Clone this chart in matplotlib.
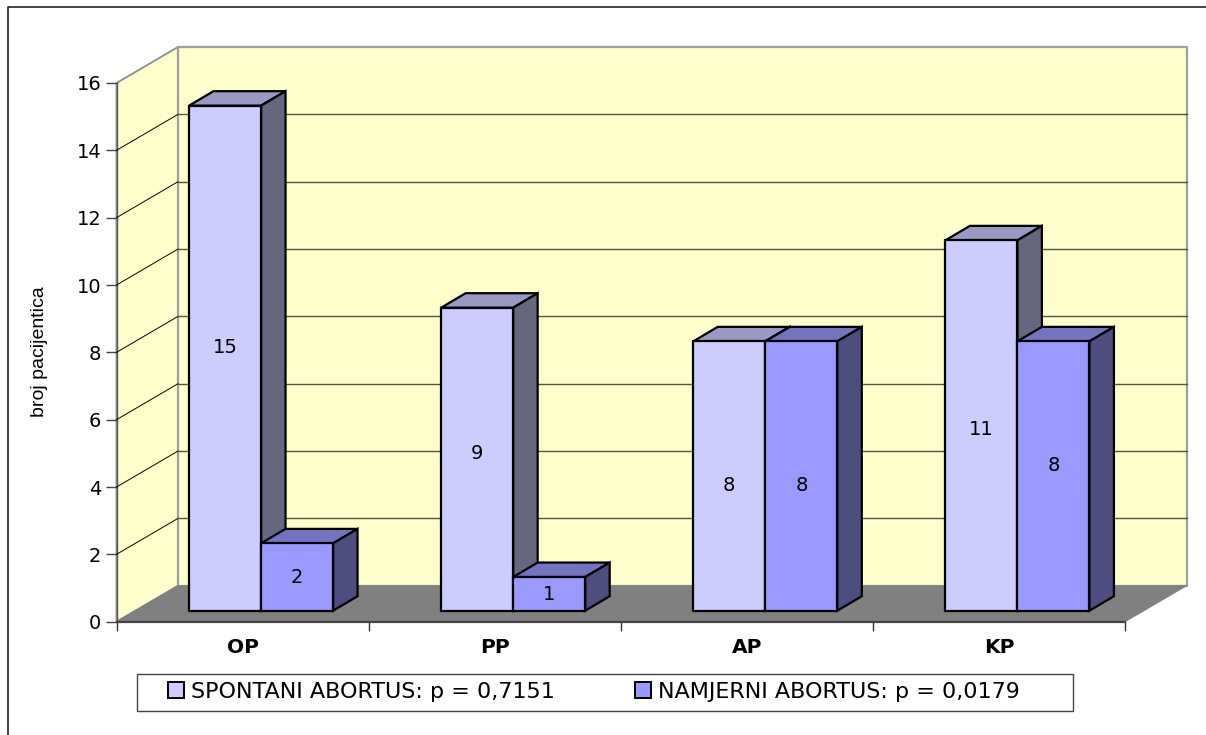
import matplotlib
matplotlib.use("Agg")
import matplotlib.pyplot as plt
from matplotlib.patches import Polygon, Patch, Rectangle

plt.rcParams['font.family'] = ['DejaVu Sans']

categories = ["OP", "PP", "AP", "KP"]
spontani = [15, 9, 8, 11]
namjerni = [2, 1, 8, 8]
# heights where the value labels sit
spontani_label_y = [8.13, 5.0, 4.06, 5.72]
namjerni_label_y = [1.3, 0.82, 4.06, 4.65]
y_ticks = [0, 2, 4, 6, 8, 10, 12, 14, 16]
legend_labels = ["SPONTANI ABORTUS: p = 0,7151", "NAMJERNI ABORTUS: p = 0,0179"]
y_label = "broj pacijentica"

W, H = 1206, 735
# oblique projection of the 3D chart, in data units
WALL_DX, WALL_DY = 0.244, 1.069
BAR_DX, BAR_DY = 0.097, 0.43
BAR_W = 0.2857
BAR_START = 0.2877
BAR_BASE = 0.327

fig = plt.figure(figsize=(W / 100, H / 100), dpi=100)
ax = fig.add_axes([116.5 / W, 1 - 621.7 / H, 1008.5 / W, 538.7 / H])
ax.set_xlim(0, 4)
ax.set_ylim(0, 16)
ax.patch.set_visible(False)
for side in ["top", "right", "bottom"]:
    ax.spines[side].set_visible(False)
ax.spines["left"].set_color("#555555")
ax.spines["left"].set_linewidth(1.0)


def poly(points, face, edge, lw, z):
    ax.add_patch(Polygon(points, closed=True, facecolor=face, edgecolor=edge,
                         linewidth=lw, zorder=z, clip_on=False, joinstyle="miter"))


def bar_3d(x, value, face, top, side, z):
    y = BAR_BASE + value
    poly([(x, y), (x + BAR_W, y), (x + BAR_W + BAR_DX, y + BAR_DY), (x + BAR_DX, y + BAR_DY)],
         top, "black", 1.6, z)
    poly([(x + BAR_W, BAR_BASE), (x + BAR_W + BAR_DX, BAR_BASE + BAR_DY),
          (x + BAR_W + BAR_DX, y + BAR_DY), (x + BAR_W, y)], side, "black", 1.6, z)
    ax.bar(x, value, BAR_W, bottom=BAR_BASE, align="edge", color=face, edgecolor="black",
           linewidth=1.6, zorder=z, clip_on=False)


# walls and floor
poly([(0, 0), (WALL_DX, WALL_DY), (WALL_DX, 16 + WALL_DY), (0, 16)], "#FFFFCC", "#8C8C8C", 1.3, 1)
poly([(WALL_DX, WALL_DY), (4 + WALL_DX, WALL_DY), (4 + WALL_DX, 16 + WALL_DY), (WALL_DX, 16 + WALL_DY)],
     "#FFFFCC", "#A0A0A0", 1.6, 1)
poly([(0, 0), (4, 0), (4 + WALL_DX, WALL_DY), (WALL_DX, WALL_DY)], "#808080", "#808080", 0.8, 2)
ax.plot([0, 4], [0, 0], color="#444444", lw=1.6, zorder=3, clip_on=False)

# grid lines, on side wall and back wall
for t in y_ticks[1:-1]:
    ax.plot([0, WALL_DX], [t, t + WALL_DY], color="black", lw=0.7, zorder=3, clip_on=False)
    ax.plot([WALL_DX, 4 + WALL_DX], [t + WALL_DY, t + WALL_DY], color="#555540", lw=1.0, zorder=3,
            clip_on=False)

# bars
for i in range(len(categories)):
    x = i + BAR_START
    bar_3d(x, spontani[i], "#CCCCFF", "#9999C4", "#66667F", 5 + i * 2)
    bar_3d(x + BAR_W, namjerni[i], "#9999FF", "#7373BF", "#4D4D7F", 6 + i * 2)
    ax.text(x + BAR_W / 2, spontani_label_y[i], str(spontani[i]), fontsize=14, ha="center", va="center",
            zorder=20)
    ax.text(x + BAR_W * 1.5, namjerni_label_y[i], str(namjerni[i]), fontsize=14, ha="center", va="center",
            zorder=20)

# axes
ax.set_yticks(y_ticks)
ax.tick_params(axis="y", length=8, width=1.0, color="#444444", labelsize=14, pad=3)
ax.set_xticks(range(len(categories) + 1))
ax.set_xticklabels([])
ax.tick_params(axis="x", which="major", length=6.5, width=1.0, color="#333333")
ax.set_xticks([i + 0.5 for i in range(len(categories))], minor=True)
ax.set_xticklabels(categories, minor=True, fontsize=14.5, fontweight="bold")
ax.tick_params(axis="x", which="minor", length=0, pad=12)
fig.text(40 / W, 1 - 352 / H, y_label, rotation=90, fontsize=14, ha="center", va="center",
         family="Liberation Sans")

# legend box, then the legend itself
fig.add_artist(Rectangle((136.5 / W, 1 - 710.5 / H), 936.5 / W, 37 / H, transform=fig.transFigure,
                         facecolor="white", edgecolor="#444444", linewidth=1.0))
handles = [Patch(facecolor="#CCCCFF", edgecolor="black", linewidth=1.4),
           Patch(facecolor="#9999FF", edgecolor="black", linewidth=1.4)]
fig.legend(handles, legend_labels, ncol=2, frameon=False, fontsize=16, loc="center",
           bbox_to_anchor=(594 / W, 1 - 692 / H), handlelength=0.72, handleheight=0.72, handletextpad=0.32,
           columnspacing=3.6)

# outer chart border, only left and top are in the picture
fig.add_artist(plt.Line2D([8 / W, 8 / W, 1], [0, 1 - 7 / H, 1 - 7 / H], color="#222222", lw=1.2))

fig.savefig("out.png", dpi=100)
